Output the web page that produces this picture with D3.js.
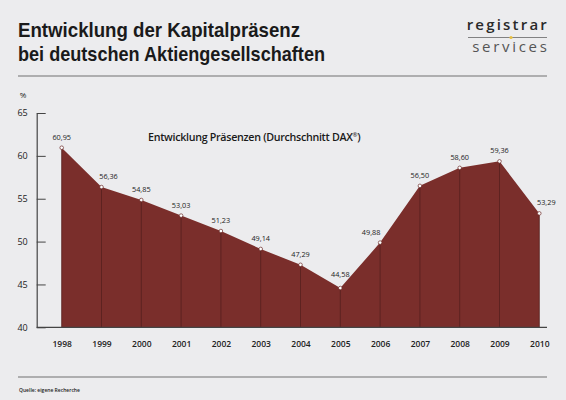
<!DOCTYPE html>
<html>
<head>
<meta charset="utf-8">
<script src="https://cdn.jsdelivr.net/npm/d3@7"></script>
<style>
  body { margin: 0; background: #ececee; }
  svg { display: block; }
</style>
</head>
<body>
<div id="chart"></div>
<script>
// data
var years = ["1998", "1999", "2000", "2001", "2002", "2003", "2004", "2005", "2006", "2007", "2008", "2009", "2010"];
var values = [60.95, 56.36, 54.85, 53.03, 51.23, 49.14, 47.29, 44.58, 49.88, 56.50, 58.60, 59.36, 53.29];
var yTicks = [40, 45, 50, 55, 60, 65];
var titleLines = ["Entwicklung der Kapitalpräsenz", "bei deutschen Aktiengesellschaften"];

var width = 566, height = 400;
var font = "'Open Sans', sans-serif";

var svg = d3.select("#chart").append("svg")
    .attr("width", width)
    .attr("height", height);

svg.append("rect")
    .attr("width", width)
    .attr("height", height)
    .attr("fill", "#ececee");

//title, two lines squeezed to the width of the original condensed face
var titleWidths = [282, 307];
svg.selectAll(".title")
    .data(titleLines)
    .enter().append("text")
    .attr("x", 18)
    .attr("y", function(d, i) { return 37 + i * 24; })
    .attr("font-family", "'Liberation Sans', Arial, sans-serif")
    .attr("font-weight", 700)
    .style("font-size", "20.5px")
    .attr("fill", "#1a1a1a")
    .attr("textLength", function(d, i) { return titleWidths[i]; })
    .attr("lengthAdjust", "spacingAndGlyphs")
    .text(function(d) { return d; });

//logo
svg.append("text")
    .attr("x", 549).attr("y", 29.5)
    .attr("text-anchor", "end")
    .attr("font-family", font)
    .attr("font-weight", 600)
    .style("font-size", "15px")
    .attr("letter-spacing", "2.2")
    .attr("fill", "#2a2a2a")
    .text("registrar");
svg.append("line")
    .attr("x1", 468).attr("x2", 547)
    .attr("y1", 37.5).attr("y2", 37.5)
    .attr("stroke", "#666").attr("stroke-width", 0.8);
svg.append("circle")
    .attr("cx", 511).attr("cy", 37.5).attr("r", 1.6)
    .attr("fill", "#e8c040");
svg.append("text")
    .attr("x", 549.5).attr("y", 51.5)
    .attr("text-anchor", "end")
    .attr("font-family", font)
    .style("font-size", "15px")
    .attr("letter-spacing", "2.7")
    .attr("fill", "#555")
    .text("services");

//rules top and bottom
[76, 377].forEach(function(y) {
    svg.append("line")
        .attr("x1", 18).attr("x2", 547)
        .attr("y1", y).attr("y2", y)
        .attr("stroke", "#9a9a9a").attr("stroke-width", 1.5);
});

//scales
var x = d3.scalePoint()
    .domain(years)
    .range([61.7, 539.3]);

var y = d3.scaleLinear()
    .domain([40, 65])
    .range([327.3, 113]);

//area
var area = d3.area()
    .x(function(d, i) { return x(years[i]); })
    .y0(y(40))
    .y1(function(d) { return y(d); });

svg.append("path")
    .datum(values)
    .attr("fill", "#7a2e2b")
    .attr("d", area);

//vertical lines at each year
svg.selectAll(".drop")
    .data(values)
    .enter().append("line")
    .attr("x1", function(d, i) { return x(years[i]); })
    .attr("x2", function(d, i) { return x(years[i]); })
    .attr("y1", function(d) { return y(d); })
    .attr("y2", y(40))
    .attr("stroke", "#56201e")
    .attr("stroke-width", 0.8);

//y axis
var yAxis = d3.axisLeft(y)
    .tickValues(yTicks)
    .tickSize(0)
    .tickPadding(9);
var gy = svg.append("g")
    .attr("transform", "translate(36.7,0)")
    .call(yAxis);
gy.select(".domain").attr("stroke", "#444").attr("stroke-width", 1.2);
gy.selectAll(".tick line").remove();
gy.selectAll(".tick").append("line")
    .attr("x1", 0).attr("x2", 9)
    .attr("stroke", "#444").attr("stroke-width", 1);
gy.selectAll(".tick text")
    .attr("font-family", font)
    .style("font-size", "9px")
    .attr("fill", "#222");

svg.append("text")
    .attr("x", 23).attr("y", 98)
    .attr("text-anchor", "middle")
    .attr("font-family", font)
    .style("font-size", "8px")
    .attr("fill", "#222")
    .text("%");

//x axis baseline
svg.append("line")
    .attr("x1", 36.7).attr("x2", 547)
    .attr("y1", y(40)).attr("y2", y(40))
    .attr("stroke", "#444").attr("stroke-width", 1.2);

var xAxis = d3.axisBottom(x)
    .tickSize(0)
    .tickPadding(14);
var gx = svg.append("g")
    .attr("transform", "translate(0," + y(40) + ")")
    .call(xAxis);
gx.select(".domain").remove();
gx.selectAll(".tick text")
    .attr("font-family", font)
    .attr("font-weight", 600)
    .style("font-size", "8.5px")
    .attr("fill", "#222");

//points and labels
svg.selectAll(".pt")
    .data(values)
    .enter().append("circle")
    .attr("cx", function(d, i) { return x(years[i]); })
    .attr("cy", function(d) { return y(d); })
    .attr("r", 1.8)
    .attr("fill", "#fff")
    .attr("stroke", "#6a2a27")
    .attr("stroke-width", 0.7);

//labels sit above the point, pushed aside where the line is steep
var labelDx = function(d, i) {
    if (i > 0 && values[i - 1] - d > 4) return 7;
    if (i < values.length - 1 && values[i + 1] - d > 6) return -9;
    return 0;
};
var labelDy = function(d, i) {
    var lowest = i > 0 && i < values.length - 1 && values[i - 1] > d && values[i + 1] > d;
    return lowest ? -11 : -8;
};
var fmt = function(d) { return d.toFixed(2).replace(".", ","); };
svg.selectAll(".lbl")
    .data(values)
    .enter().append("text")
    .attr("x", function(d, i) { return x(years[i]) + labelDx(d, i); })
    .attr("y", function(d, i) { return y(d) + labelDy(d, i); })
    .attr("text-anchor", "middle")
    .attr("font-family", font)
    .style("font-size", "7.3px")
    .attr("fill", "#222")
    .text(fmt);

//chart title
var sub = svg.append("text")
    .attr("x", 148).attr("y", 141)
    .attr("font-family", font)
    .attr("font-weight", 600)
    .style("font-size", "10.7px")
    .attr("letter-spacing", "-0.3")
    .attr("fill", "#1a1a1a")
    .text("Entwicklung Präsenzen (Durchschnitt DAX");
sub.append("tspan").attr("dy", -4).style("font-size", "6px").text("®");
sub.append("tspan").attr("dy", 4).text(")");

//source
svg.append("text")
    .attr("x", 19).attr("y", 391.5)
    .attr("font-family", font)
    .attr("font-weight", 600)
    .style("font-size", "5px")
    .attr("fill", "#222")
    .text("Quelle: eigene Recherche");
</script>
</body>
</html>
